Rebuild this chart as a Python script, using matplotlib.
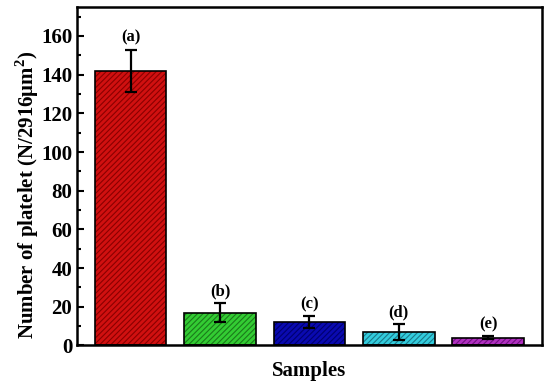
import matplotlib.pyplot as plt
import numpy as np
from matplotlib.ticker import MultipleLocator

plt.rcParams['font.family'] = ['Liberation Serif', 'DejaVu Serif']
plt.rcParams['font.weight'] = 'bold'
plt.rcParams['mathtext.fontset'] = 'custom'
plt.rcParams['mathtext.bf'] = 'Liberation Serif:bold'
plt.rcParams['hatch.linewidth'] = 0.8

labels = ['(a)', '(b)', '(c)', '(d)', '(e)']
values = [142, 17, 12, 7, 4]
errors = [11, 5, 3, 4, 0.8]
colors = ['#d01010', '#33cc33', '#0a0ab0', '#33ccdd', '#b030c0']
hatch_colors = ['#8a0000', '#1a7a1a', '#000070', '#1a7a8a', '#701080']

fig, ax = plt.subplots(figsize=(5.5, 3.86), dpi=100)
fig.subplots_adjust(left=0.14, right=0.985, top=0.982, bottom=0.105)

x = np.arange(1, len(values) + 1)
for xi, v, c, hc in zip(x, values, colors, hatch_colors):
    ax.bar(xi, v, 0.8, color=c, edgecolor=hc, hatch='//////', linewidth=0)
    ax.bar(xi, v, 0.8, color='none', edgecolor='black', linewidth=1.2)
ax.errorbar(x, values, yerr=errors, fmt='none', ecolor='black',
            elinewidth=1.6, capsize=4, capthick=1.6)

for xi, v, e, lab in zip(x, values, errors, labels):
    ax.text(xi, v + e + 2, lab, ha='center', va='bottom', fontsize=12, fontweight='bold')

ax.set_xlim(0.4, 5.6)
ax.set_ylim(0, 175)
ax.yaxis.set_major_locator(MultipleLocator(20))
ax.yaxis.set_minor_locator(MultipleLocator(10))
ax.set_xticks([])
ax.tick_params(axis='y', which='both', direction='in', labelsize=15, width=1.5)
ax.tick_params(axis='y', which='major', length=5)
ax.tick_params(axis='y', which='minor', length=3)
for lab in ax.get_yticklabels():
    lab.set_fontweight('bold')
for s in ax.spines.values():
    s.set_linewidth(1.8)

ax.set_xlabel('Samples', fontsize=15, fontweight='bold', labelpad=11)
ax.set_ylabel('Number of platelet (N/2916\u03bcm$^{\\mathbf{2}}$)', fontsize=15,
              fontweight='bold')
ax.yaxis.set_label_coords(-0.078, 0.445)

fig.savefig('out.png', dpi=100)
